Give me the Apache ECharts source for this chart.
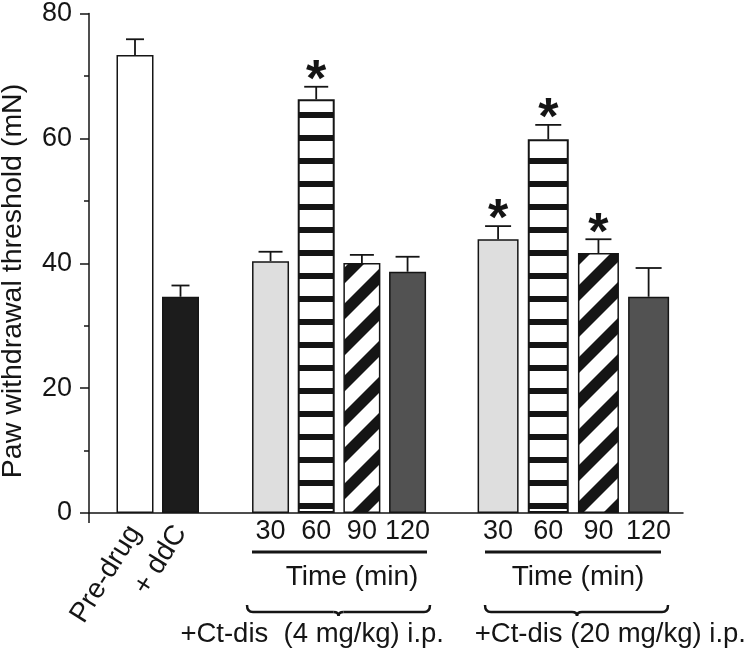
<!DOCTYPE html>
<html>
<head>
<meta charset="utf-8">
<script src="https://cdn.jsdelivr.net/npm/echarts@6/dist/echarts.min.js"></script>
<style>html,body{margin:0;padding:0;background:#fff;}#c{width:750px;height:649px;}</style>
</head>
<body>
<div id="c"></div>
<script>
// ---- data ----
const baseCats = ['Pre-drug', '+ ddC'];
const baseMeans = [73.3, 34.6];
const baseSem = [2.5, 1.8];
const times = ['30', '60', '90', '120'];
const ct4Means = [40.3, 66.2, 40.0, 38.6];
const ct4Sem = [1.5, 2.0, 1.3, 2.4];
const ct4Sig = [0, 1, 0, 0];
const ct20Means = [43.8, 59.8, 41.6, 34.6];
const ct20Sem = [2.1, 2.3, 2.2, 4.6];
const ct20Sig = [1, 1, 1, 0];
const yTicks = [0, 20, 40, 60, 80];

const FONT = '"Liberation Sans", Arial, Helvetica, sans-serif';
const INK = '#151515';

// patterns
function hStripe() {
  const c = document.createElement('canvas');
  c.width = 8; c.height = 23;
  const g = c.getContext('2d');
  g.fillStyle = '#fff'; g.fillRect(0, 0, 8, 23);
  g.fillStyle = INK; g.fillRect(0, 20, 8, 3); g.fillRect(0, 0, 8, 3);
  return c;
}
function dStripe() {
  const p = 36, b = 16;
  const c = document.createElement('canvas');
  c.width = p; c.height = p;
  const g = c.getContext('2d');
  g.fillStyle = '#fff'; g.fillRect(0, 0, p, p);
  g.strokeStyle = INK; g.lineWidth = b / Math.SQRT2;
  for (let k = -1; k <= 2; k++) {
    const cc = k * p + b / 2;
    g.beginPath(); g.moveTo(cc + p, -p); g.lineTo(cc - 2 * p, 2 * p); g.stroke();
  }
  return c;
}
const timeStyles = [
  { color: '#dedede', borderColor: INK, borderWidth: 1.5 },
  { color: { image: hStripe(), repeat: 'repeat' }, borderColor: INK, borderWidth: 2 },
  { color: { image: dStripe(), repeat: 'repeat' }, borderColor: INK, borderWidth: 1.5 },
  { color: '#525252', borderColor: INK, borderWidth: 1.5 }
];
const baseStyles = [
  { color: '#ffffff', borderColor: INK, borderWidth: 1.5 },
  { color: '#1c1c1c', borderColor: INK, borderWidth: 1.5 }
];

const TOP = 13, BOTTOM = 136;
const grids = [
  { left: 89, right: 67, top: TOP, bottom: BOTTOM },
  { left: 112.25, width: 91, top: TOP, bottom: BOTTOM },
  { left: 247.7, width: 182.7, top: TOP, bottom: BOTTOM },
  { left: 473, width: 200.7, top: TOP, bottom: BOTTOM }
];

const hiddenY = i => ({ type: 'value', gridIndex: i, min: 0, max: 80, show: false });
const catAxis = (i, cats, extra) => Object.assign({
  type: 'category', gridIndex: i, data: cats,
  axisLine: { show: false }, axisTick: { show: false },
  axisLabel: { color: INK, fontFamily: FONT, fontSize: 27, margin: 5, interval: 0 }
}, extra || {});

function barSeries(i, means, styles, width) {
  return {
    type: 'bar', xAxisIndex: i, yAxisIndex: i, barWidth: width,
    data: means.map((v, k) => ({ value: v, itemStyle: styles[k] })),
    z: 2
  };
}
function errSeries(i, means, sems, sig, cap) {
  return {
    type: 'custom', xAxisIndex: i, yAxisIndex: i, z: 5,
    data: means.map((v, k) => [k, v, v + sems[k], sig ? sig[k] : 0]),
    renderItem: function (params, api) {
      const x = api.value(0);
      const p0 = api.coord([x, api.value(1)]);
      const p1 = api.coord([x, api.value(2)]);
      const st = { stroke: INK, lineWidth: 1.8 };
      const ch = [
        { type: 'line', shape: { x1: p0[0], y1: p0[1], x2: p1[0], y2: p1[1] }, style: st },
        { type: 'line', shape: { x1: p1[0] - cap / 2, y1: p1[1], x2: p1[0] + cap / 2, y2: p1[1] }, style: st }
      ];
      if (api.value(3)) {
        ch.push({ type: 'text', style: { text: '*', x: p1[0], y: p1[1] - 5, textAlign: 'center', textVerticalAlign: 'middle', font: 'bold 52px ' + FONT, fill: INK } });
      }
      return { type: 'group', children: ch };
    }
  };
}

function brace(x1, x2, tip, yTop) {
  const yMid = yTop + 7, yTip = yTop + 11;
  const st = { stroke: INK, lineWidth: 2.5, fill: null };
  return [
    { type: 'bezierCurve', shape: { x1: x1, y1: yTop, x2: x1 + 6, y2: yMid, cpx1: x1, cpy1: yMid }, style: st },
    { type: 'line', shape: { x1: x1 + 6, y1: yMid, x2: tip - 5, y2: yMid }, style: st },
    { type: 'bezierCurve', shape: { x1: tip - 5, y1: yMid, x2: tip, y2: yTip, cpx1: tip, cpy1: yMid }, style: st },
    { type: 'bezierCurve', shape: { x1: tip, y1: yTip, x2: tip + 5, y2: yMid, cpx1: tip, cpy1: yMid }, style: st },
    { type: 'line', shape: { x1: tip + 5, y1: yMid, x2: x2 - 6, y2: yMid }, style: st },
    { type: 'bezierCurve', shape: { x1: x2 - 6, y1: yMid, x2: x2, y2: yTop, cpx1: x2, cpy1: yMid }, style: st }
  ];
}
const txt = (s, x, y, align, size, rot) => ({
  type: 'text', x: x, y: y, rotation: rot || 0,
  style: { text: s, x: 0, y: 0, textAlign: align, textVerticalAlign: 'middle', font: size + 'px ' + FONT, fill: INK }
});

const chart = echarts.init(document.getElementById('c'), null, { renderer: 'canvas' });
chart.setOption({
  animation: false,
  backgroundColor: '#fff',
  grid: grids,
  xAxis: [
    { type: 'value', gridIndex: 0, min: 0, max: 1, axisLine: { show: true, onZero: false, lineStyle: { color: INK, width: 1.5 } },
      axisTick: { show: false }, axisLabel: { show: false }, splitLine: { show: false } },
    catAxis(1, baseCats, { axisLabel: { color: INK, fontFamily: FONT, fontSize: 28, margin: 15, rotate: 58, interval: 0 } }),
    catAxis(2, times),
    catAxis(3, times)
  ],
  yAxis: [
    { type: 'value', gridIndex: 0, min: 0, max: 80, interval: 20,
      axisLine: { show: true, lineStyle: { color: INK, width: 1.5 } },
      axisTick: { show: true, length: 9, lineStyle: { color: INK, width: 1.5 } },
      minorTick: { show: true, splitNumber: 2, length: 5, lineStyle: { color: INK, width: 1.5 } },
      splitLine: { show: false },
      axisLabel: { color: INK, fontFamily: FONT, fontSize: 27, margin: 17,
        formatter: v => (yTicks.indexOf(v) >= 0 ? String(v) : '') } },
    hiddenY(1), hiddenY(2), hiddenY(3)
  ],
  series: [
    barSeries(1, baseMeans, baseStyles, 37),
    errSeries(1, baseMeans, baseSem, null, 18),
    barSeries(2, ct4Means, timeStyles, 37),
    errSeries(2, ct4Means, ct4Sem, ct4Sig, 24),
    barSeries(3, ct20Means, timeStyles, 41),
    errSeries(3, ct20Means, ct20Sem, ct20Sig, 26)
  ],
  graphic: [].concat(
    [
      { type: 'line', shape: { x1: 89, y1: 513, x2: 89, y2: 523 }, style: { stroke: INK, lineWidth: 1.5 } },
      { type: 'line', shape: { x1: 252, y1: 552, x2: 427, y2: 552 }, style: { stroke: INK, lineWidth: 3 } },
      { type: 'line', shape: { x1: 485, y1: 552, x2: 661, y2: 552 }, style: { stroke: INK, lineWidth: 3 } },
      txt('Time (min)', 352, 577, 'center', 28),
      txt('Time (min)', 578, 577, 'center', 28),
      txt('+Ct-dis  (4 mg/kg) i.p.', 444, 634, 'right', 27.5),
      txt('+Ct-dis (20 mg/kg) i.p.', 746, 634, 'right', 27.5),
      txt('Paw withdrawal threshold (mN)', 13, 281, 'center', 28.5, Math.PI / 2)
    ],
    brace(247, 430, 338.5, 605),
    brace(485, 668, 577, 605)
  )
});
</script>
</body>
</html>
